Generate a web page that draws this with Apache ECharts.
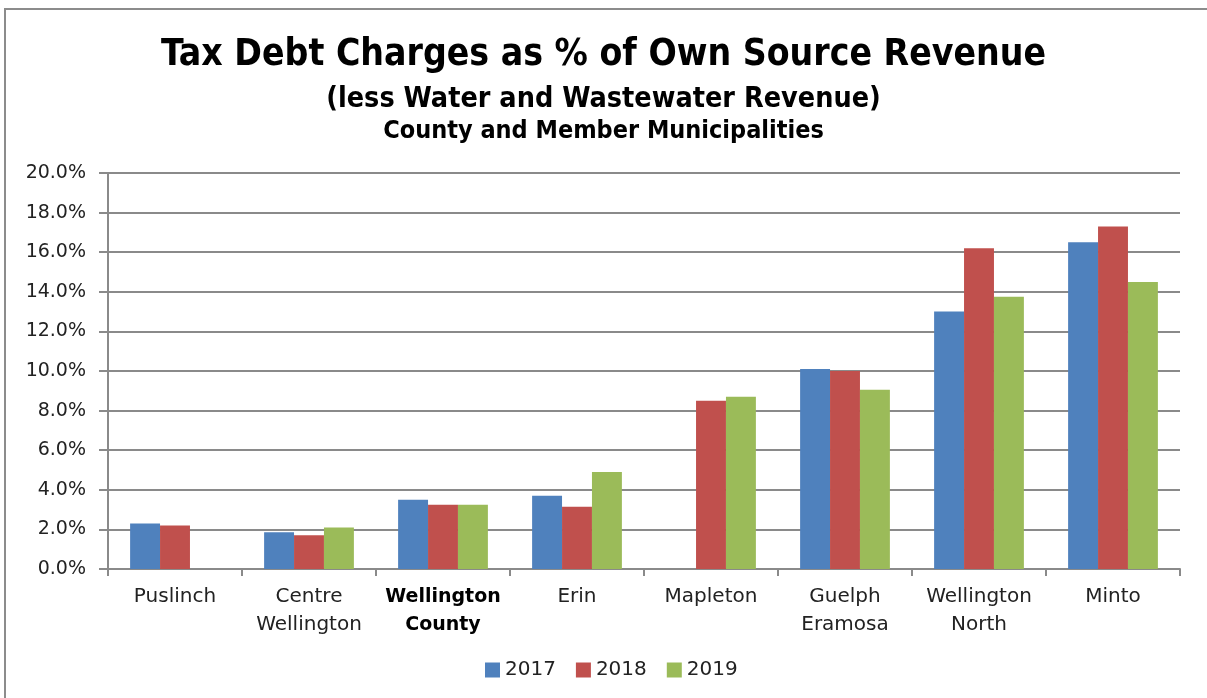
<!DOCTYPE html>
<html lang="en">
<head>
<meta charset="UTF-8">
<style>
  html, body { height: 100%; margin: 0; background: #fff; }
</style>
</head>
<body>
<div id="chart" style="width:1207px;height:698px;"></div>
<script src="https://cdn.jsdelivr.net/npm/echarts@6/dist/echarts.min.js"></script>
<script>
// categories along the x axis
var municipalities = ['Puslinch', 'Centre\nWellington', 'Wellington\nCounty', 'Erin',
    'Mapleton', 'Guelph\nEramosa', 'Wellington\nNorth', 'Minto'];
var years = ['2017', '2018', '2019'];

// % of own source revenue (null = no bar)
var values2017 = [2.3, 1.85, 3.5, 3.7, null, 10.1, 13.0, 16.5];
var values2018 = [2.2, 1.7, 3.25, 3.15, 8.5, 10.0, 16.2, 17.3];
var values2019 = [null, 2.1, 3.25, 4.9, 8.7, 9.05, 13.75, 14.5];

var yTicks = { min: 0, max: 20, interval: 2 };

var font = "'Liberation Sans Narrow', 'DejaVu Sans Condensed', sans-serif";
var labelFont = "'DejaVu Sans', sans-serif";
var gridGray = '#8a8a8a';

var myChart = echarts.init(document.getElementById('chart'));

function bar(name, data, color) {
    return {
        name: name,
        type: 'bar',
        data: data,
        barGap: '0%',
        barCategoryGap: '33%',
        itemStyle: { color: color }
    };
}

myChart.setOption({
    animation: false,
    color: ['#4F81BD', '#C0504D', '#9BBB59'],
    graphic: [{
        type: 'rect',
        shape: { x: 5, y: 9, width: 1300, height: 800 },
        style: { fill: 'none', stroke: '#8c8c8c', lineWidth: 2 },
        silent: true
    }],
    title: [{
        text: 'Tax Debt Charges as % of Own Source Revenue',
        left: 'center', top: 32,
        textStyle: { fontFamily: font, fontWeight: 'bold', fontSize: 37, color: '#000' }
    }, {
        text: '(less Water and Wastewater Revenue)',
        left: 'center', top: 80,
        textStyle: { fontFamily: font, fontWeight: 'bold', fontSize: 28.5, color: '#000' }
    }, {
        text: 'County and Member Municipalities',
        left: 'center', top: 114,
        textStyle: { fontFamily: font, fontWeight: 'bold', fontSize: 25, color: '#000' }
    }],
    legend: {
        data: years,
        bottom: 13,
        left: 480,
        itemWidth: 15,
        itemHeight: 15,
        itemGap: 20,
        icon: 'rect',
        textStyle: { fontFamily: labelFont, fontSize: 20, color: '#222' }
    },
    grid: { left: 108, right: 27, top: 173, bottom: 129, containLabel: false },
    xAxis: {
        type: 'category',
        data: municipalities,
        axisLine: { lineStyle: { color: gridGray, width: 2 } },
        axisTick: { show: true, length: 7, lineStyle: { color: gridGray, width: 2 } },
        axisLabel: {
            interval: 0,
            margin: 14,
            fontFamily: labelFont,
            fontSize: 20,
            lineHeight: 28,
            color: '#222',
            formatter: function (v) {
                if (v === 'Wellington\nCounty') {
                    return '{b|Wellington}\n{b|County}';
                }
                return v;
            },
            rich: {
                b: { fontFamily: labelFont, fontSize: 19, fontWeight: 'bold', lineHeight: 28, color: '#000' }
            }
        }
    },
    yAxis: {
        type: 'value',
        min: yTicks.min,
        max: yTicks.max,
        interval: yTicks.interval,
        axisLine: { show: true, lineStyle: { color: gridGray, width: 2 } },
        axisTick: { show: true, length: 9, lineStyle: { color: gridGray, width: 2 } },
        splitLine: { lineStyle: { color: gridGray, width: 2 } },
        axisLabel: {
            margin: 22,
            fontFamily: labelFont,
            fontSize: 19,
            color: '#222',
            formatter: function (v) { return v.toFixed(1) + '%'; }
        }
    },
    series: [
        bar(years[0], values2017, '#4F81BD'),
        bar(years[1], values2018, '#C0504D'),
        bar(years[2], values2019, '#9BBB59')
    ]
});
</script>
</body>
</html>
